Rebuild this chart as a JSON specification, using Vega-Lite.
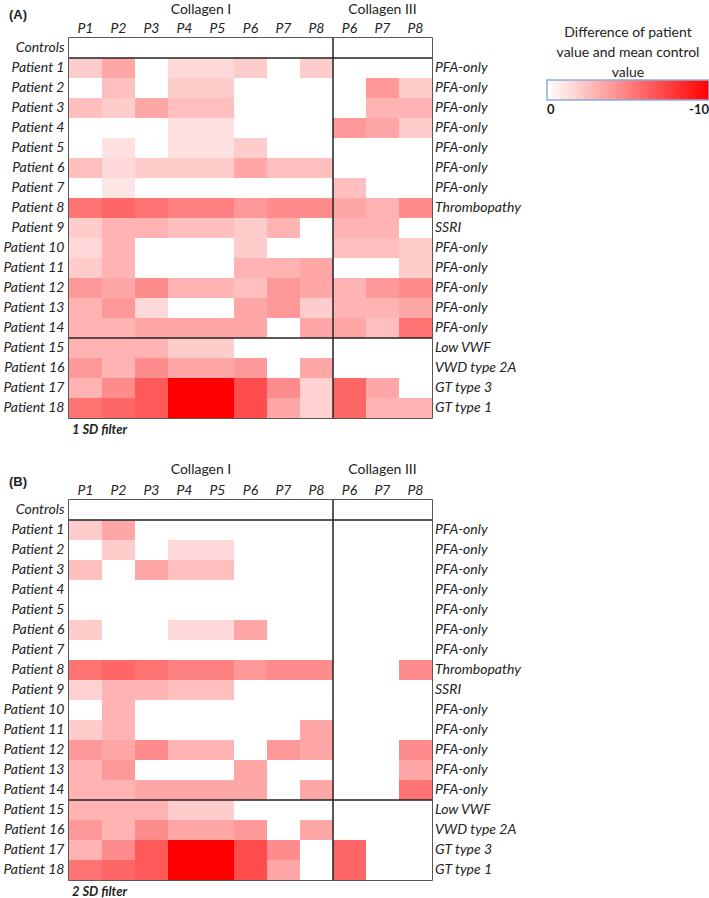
{
"$schema": "https://vega.github.io/schema/vega-lite/v6.json",
"padding": {"left": 2, "top": 2, "right": 0, "bottom": 6},
"spacing": 24,
"config": {
 "font": "Lato",
 "view": {"stroke": "#222", "strokeWidth": 1.5},
 "axis": {"labelFont": "Lato", "labelFontSize": 14, "labelColor": "#222", "labelFontStyle": "italic", "domain": false, "ticks": false, "grid": false, "title": null},
 "text": {"font": "Lato", "fontSize": 14, "color": "#222"},
 "rule": {"color": "#222", "strokeWidth": 1.5}
},
"datasets": {
 "diag": [
  {"p":"Patient 1","d":"PFA-only"},{"p":"Patient 2","d":"PFA-only"},{"p":"Patient 3","d":"PFA-only"},{"p":"Patient 4","d":"PFA-only"},{"p":"Patient 5","d":"PFA-only"},{"p":"Patient 6","d":"PFA-only"},{"p":"Patient 7","d":"PFA-only"},{"p":"Patient 8","d":"Thrombopathy"},{"p":"Patient 9","d":"SSRI"},{"p":"Patient 10","d":"PFA-only"},{"p":"Patient 11","d":"PFA-only"},{"p":"Patient 12","d":"PFA-only"},{"p":"Patient 13","d":"PFA-only"},{"p":"Patient 14","d":"PFA-only"},{"p":"Patient 15","d":"Low VWF"},{"p":"Patient 16","d":"VWD type 2A"},{"p":"Patient 17","d":"GT type 3"},{"p":"Patient 18","d":"GT type 1"}
 ],
 "A": [
  {"p":"Controls","c":"I1","v":0},{"p":"Controls","c":"I2","v":0},{"p":"Controls","c":"I3","v":0},{"p":"Controls","c":"I4","v":0},{"p":"Controls","c":"I5","v":0},{"p":"Controls","c":"I6","v":0},{"p":"Controls","c":"I7","v":0},{"p":"Controls","c":"I8","v":0},{"p":"Controls","c":"III6","v":0},{"p":"Controls","c":"III7","v":0},{"p":"Controls","c":"III8","v":0},
  {"p":"Patient 1","c":"I1","v":-2},{"p":"Patient 1","c":"I2","v":-3.5},{"p":"Patient 1","c":"I3","v":0},{"p":"Patient 1","c":"I4","v":-1.5},{"p":"Patient 1","c":"I5","v":-1.5},{"p":"Patient 1","c":"I6","v":-2},{"p":"Patient 1","c":"I7","v":0},{"p":"Patient 1","c":"I8","v":-2},{"p":"Patient 1","c":"III6","v":0},{"p":"Patient 1","c":"III7","v":0},{"p":"Patient 1","c":"III8","v":0},
  {"p":"Patient 2","c":"I1","v":0},{"p":"Patient 2","c":"I2","v":-2.5},{"p":"Patient 2","c":"I3","v":0},{"p":"Patient 2","c":"I4","v":-2},{"p":"Patient 2","c":"I5","v":-2},{"p":"Patient 2","c":"I6","v":0},{"p":"Patient 2","c":"I7","v":0},{"p":"Patient 2","c":"I8","v":0},{"p":"Patient 2","c":"III6","v":0},{"p":"Patient 2","c":"III7","v":-4},{"p":"Patient 2","c":"III8","v":-2},
  {"p":"Patient 3","c":"I1","v":-2.5},{"p":"Patient 3","c":"I2","v":-2},{"p":"Patient 3","c":"I3","v":-3.5},{"p":"Patient 3","c":"I4","v":-2.5},{"p":"Patient 3","c":"I5","v":-2.5},{"p":"Patient 3","c":"I6","v":0},{"p":"Patient 3","c":"I7","v":0},{"p":"Patient 3","c":"I8","v":0},{"p":"Patient 3","c":"III6","v":0},{"p":"Patient 3","c":"III7","v":-3},{"p":"Patient 3","c":"III8","v":-3},
  {"p":"Patient 4","c":"I1","v":0},{"p":"Patient 4","c":"I2","v":0},{"p":"Patient 4","c":"I3","v":0},{"p":"Patient 4","c":"I4","v":-1.2},{"p":"Patient 4","c":"I5","v":-1.2},{"p":"Patient 4","c":"I6","v":0},{"p":"Patient 4","c":"I7","v":0},{"p":"Patient 4","c":"I8","v":0},{"p":"Patient 4","c":"III6","v":-4},{"p":"Patient 4","c":"III7","v":-3.5},{"p":"Patient 4","c":"III8","v":-2},
  {"p":"Patient 5","c":"I1","v":0},{"p":"Patient 5","c":"I2","v":-1.2},{"p":"Patient 5","c":"I3","v":0},{"p":"Patient 5","c":"I4","v":-1.2},{"p":"Patient 5","c":"I5","v":-1.2},{"p":"Patient 5","c":"I6","v":-2},{"p":"Patient 5","c":"I7","v":0},{"p":"Patient 5","c":"I8","v":0},{"p":"Patient 5","c":"III6","v":0},{"p":"Patient 5","c":"III7","v":0},{"p":"Patient 5","c":"III8","v":0},
  {"p":"Patient 6","c":"I1","v":-2.5},{"p":"Patient 6","c":"I2","v":-1.5},{"p":"Patient 6","c":"I3","v":-2},{"p":"Patient 6","c":"I4","v":-2},{"p":"Patient 6","c":"I5","v":-2},{"p":"Patient 6","c":"I6","v":-3.5},{"p":"Patient 6","c":"I7","v":-2.5},{"p":"Patient 6","c":"I8","v":-2.5},{"p":"Patient 6","c":"III6","v":0},{"p":"Patient 6","c":"III7","v":0},{"p":"Patient 6","c":"III8","v":0},
  {"p":"Patient 7","c":"I1","v":0},{"p":"Patient 7","c":"I2","v":-1},{"p":"Patient 7","c":"I3","v":0},{"p":"Patient 7","c":"I4","v":0},{"p":"Patient 7","c":"I5","v":0},{"p":"Patient 7","c":"I6","v":0},{"p":"Patient 7","c":"I7","v":0},{"p":"Patient 7","c":"I8","v":0},{"p":"Patient 7","c":"III6","v":-2.5},{"p":"Patient 7","c":"III7","v":0},{"p":"Patient 7","c":"III8","v":0},
  {"p":"Patient 8","c":"I1","v":-5.5},{"p":"Patient 8","c":"I2","v":-6},{"p":"Patient 8","c":"I3","v":-5.5},{"p":"Patient 8","c":"I4","v":-5},{"p":"Patient 8","c":"I5","v":-5},{"p":"Patient 8","c":"I6","v":-4},{"p":"Patient 8","c":"I7","v":-4.5},{"p":"Patient 8","c":"I8","v":-4.5},{"p":"Patient 8","c":"III6","v":-3.5},{"p":"Patient 8","c":"III7","v":-3},{"p":"Patient 8","c":"III8","v":-4.5},
  {"p":"Patient 9","c":"I1","v":-2},{"p":"Patient 9","c":"I2","v":-3},{"p":"Patient 9","c":"I3","v":-3},{"p":"Patient 9","c":"I4","v":-2.5},{"p":"Patient 9","c":"I5","v":-2.5},{"p":"Patient 9","c":"I6","v":-2},{"p":"Patient 9","c":"I7","v":-3},{"p":"Patient 9","c":"I8","v":0},{"p":"Patient 9","c":"III6","v":-3},{"p":"Patient 9","c":"III7","v":-3},{"p":"Patient 9","c":"III8","v":0},
  {"p":"Patient 10","c":"I1","v":-1.5},{"p":"Patient 10","c":"I2","v":-3},{"p":"Patient 10","c":"I3","v":0},{"p":"Patient 10","c":"I4","v":0},{"p":"Patient 10","c":"I5","v":0},{"p":"Patient 10","c":"I6","v":-2},{"p":"Patient 10","c":"I7","v":0},{"p":"Patient 10","c":"I8","v":0},{"p":"Patient 10","c":"III6","v":-2.5},{"p":"Patient 10","c":"III7","v":-2.5},{"p":"Patient 10","c":"III8","v":-2},
  {"p":"Patient 11","c":"I1","v":-2},{"p":"Patient 11","c":"I2","v":-3},{"p":"Patient 11","c":"I3","v":0},{"p":"Patient 11","c":"I4","v":0},{"p":"Patient 11","c":"I5","v":0},{"p":"Patient 11","c":"I6","v":-3},{"p":"Patient 11","c":"I7","v":-3},{"p":"Patient 11","c":"I8","v":-3.5},{"p":"Patient 11","c":"III6","v":0},{"p":"Patient 11","c":"III7","v":0},{"p":"Patient 11","c":"III8","v":-2},
  {"p":"Patient 12","c":"I1","v":-4},{"p":"Patient 12","c":"I2","v":-3.5},{"p":"Patient 12","c":"I3","v":-4.5},{"p":"Patient 12","c":"I4","v":-3},{"p":"Patient 12","c":"I5","v":-3},{"p":"Patient 12","c":"I6","v":-2.5},{"p":"Patient 12","c":"I7","v":-4},{"p":"Patient 12","c":"I8","v":-3.5},{"p":"Patient 12","c":"III6","v":-3},{"p":"Patient 12","c":"III7","v":-4},{"p":"Patient 12","c":"III8","v":-4.5},
  {"p":"Patient 13","c":"I1","v":-3},{"p":"Patient 13","c":"I2","v":-4},{"p":"Patient 13","c":"I3","v":-1.5},{"p":"Patient 13","c":"I4","v":0},{"p":"Patient 13","c":"I5","v":0},{"p":"Patient 13","c":"I6","v":-3.5},{"p":"Patient 13","c":"I7","v":-4},{"p":"Patient 13","c":"I8","v":-2},{"p":"Patient 13","c":"III6","v":-3},{"p":"Patient 13","c":"III7","v":-3},{"p":"Patient 13","c":"III8","v":-3.5},
  {"p":"Patient 14","c":"I1","v":-3},{"p":"Patient 14","c":"I2","v":-3},{"p":"Patient 14","c":"I3","v":-3.5},{"p":"Patient 14","c":"I4","v":-3.5},{"p":"Patient 14","c":"I5","v":-3.5},{"p":"Patient 14","c":"I6","v":-3.5},{"p":"Patient 14","c":"I7","v":0},{"p":"Patient 14","c":"I8","v":-3.5},{"p":"Patient 14","c":"III6","v":-3.5},{"p":"Patient 14","c":"III7","v":-2.5},{"p":"Patient 14","c":"III8","v":-5.5},
  {"p":"Patient 15","c":"I1","v":-3},{"p":"Patient 15","c":"I2","v":-3},{"p":"Patient 15","c":"I3","v":-3},{"p":"Patient 15","c":"I4","v":-2},{"p":"Patient 15","c":"I5","v":-2},{"p":"Patient 15","c":"I6","v":0},{"p":"Patient 15","c":"I7","v":0},{"p":"Patient 15","c":"I8","v":0},{"p":"Patient 15","c":"III6","v":0},{"p":"Patient 15","c":"III7","v":0},{"p":"Patient 15","c":"III8","v":0},
  {"p":"Patient 16","c":"I1","v":-4},{"p":"Patient 16","c":"I2","v":-3},{"p":"Patient 16","c":"I3","v":-4.5},{"p":"Patient 16","c":"I4","v":-3.5},{"p":"Patient 16","c":"I5","v":-3.5},{"p":"Patient 16","c":"I6","v":-4},{"p":"Patient 16","c":"I7","v":0},{"p":"Patient 16","c":"I8","v":-3.5},{"p":"Patient 16","c":"III6","v":0},{"p":"Patient 16","c":"III7","v":0},{"p":"Patient 16","c":"III8","v":0},
  {"p":"Patient 17","c":"I1","v":-3},{"p":"Patient 17","c":"I2","v":-4.5},{"p":"Patient 17","c":"I3","v":-6.5},{"p":"Patient 17","c":"I4","v":-10},{"p":"Patient 17","c":"I5","v":-10},{"p":"Patient 17","c":"I6","v":-7},{"p":"Patient 17","c":"I7","v":-4.5},{"p":"Patient 17","c":"I8","v":-1.8},{"p":"Patient 17","c":"III6","v":-6},{"p":"Patient 17","c":"III7","v":-3.5},{"p":"Patient 17","c":"III8","v":0},
  {"p":"Patient 18","c":"I1","v":-5.5},{"p":"Patient 18","c":"I2","v":-6},{"p":"Patient 18","c":"I3","v":-6.5},{"p":"Patient 18","c":"I4","v":-10},{"p":"Patient 18","c":"I5","v":-10},{"p":"Patient 18","c":"I6","v":-7},{"p":"Patient 18","c":"I7","v":-3.5},{"p":"Patient 18","c":"I8","v":-1.8},{"p":"Patient 18","c":"III6","v":-6},{"p":"Patient 18","c":"III7","v":-3},{"p":"Patient 18","c":"III8","v":-3}
 ],
 "B": [
  {"p":"Controls","c":"I1","v":0},{"p":"Controls","c":"I2","v":0},{"p":"Controls","c":"I3","v":0},{"p":"Controls","c":"I4","v":0},{"p":"Controls","c":"I5","v":0},{"p":"Controls","c":"I6","v":0},{"p":"Controls","c":"I7","v":0},{"p":"Controls","c":"I8","v":0},{"p":"Controls","c":"III6","v":0},{"p":"Controls","c":"III7","v":0},{"p":"Controls","c":"III8","v":0},
  {"p":"Patient 1","c":"I1","v":-2},{"p":"Patient 1","c":"I2","v":-3.5},{"p":"Patient 1","c":"I3","v":0},{"p":"Patient 1","c":"I4","v":0},{"p":"Patient 1","c":"I5","v":0},{"p":"Patient 1","c":"I6","v":0},{"p":"Patient 1","c":"I7","v":0},{"p":"Patient 1","c":"I8","v":0},{"p":"Patient 1","c":"III6","v":0},{"p":"Patient 1","c":"III7","v":0},{"p":"Patient 1","c":"III8","v":0},
  {"p":"Patient 2","c":"I1","v":0},{"p":"Patient 2","c":"I2","v":-2},{"p":"Patient 2","c":"I3","v":0},{"p":"Patient 2","c":"I4","v":-1.5},{"p":"Patient 2","c":"I5","v":-1.5},{"p":"Patient 2","c":"I6","v":0},{"p":"Patient 2","c":"I7","v":0},{"p":"Patient 2","c":"I8","v":0},{"p":"Patient 2","c":"III6","v":0},{"p":"Patient 2","c":"III7","v":0},{"p":"Patient 2","c":"III8","v":0},
  {"p":"Patient 3","c":"I1","v":-2.5},{"p":"Patient 3","c":"I2","v":0},{"p":"Patient 3","c":"I3","v":-3.5},{"p":"Patient 3","c":"I4","v":-2.5},{"p":"Patient 3","c":"I5","v":-2.5},{"p":"Patient 3","c":"I6","v":0},{"p":"Patient 3","c":"I7","v":0},{"p":"Patient 3","c":"I8","v":0},{"p":"Patient 3","c":"III6","v":0},{"p":"Patient 3","c":"III7","v":0},{"p":"Patient 3","c":"III8","v":0},
  {"p":"Patient 4","c":"I1","v":0},{"p":"Patient 4","c":"I2","v":0},{"p":"Patient 4","c":"I3","v":0},{"p":"Patient 4","c":"I4","v":0},{"p":"Patient 4","c":"I5","v":0},{"p":"Patient 4","c":"I6","v":0},{"p":"Patient 4","c":"I7","v":0},{"p":"Patient 4","c":"I8","v":0},{"p":"Patient 4","c":"III6","v":0},{"p":"Patient 4","c":"III7","v":0},{"p":"Patient 4","c":"III8","v":0},
  {"p":"Patient 5","c":"I1","v":0},{"p":"Patient 5","c":"I2","v":0},{"p":"Patient 5","c":"I3","v":0},{"p":"Patient 5","c":"I4","v":0},{"p":"Patient 5","c":"I5","v":0},{"p":"Patient 5","c":"I6","v":0},{"p":"Patient 5","c":"I7","v":0},{"p":"Patient 5","c":"I8","v":0},{"p":"Patient 5","c":"III6","v":0},{"p":"Patient 5","c":"III7","v":0},{"p":"Patient 5","c":"III8","v":0},
  {"p":"Patient 6","c":"I1","v":-2},{"p":"Patient 6","c":"I2","v":0},{"p":"Patient 6","c":"I3","v":0},{"p":"Patient 6","c":"I4","v":-1.5},{"p":"Patient 6","c":"I5","v":-1.5},{"p":"Patient 6","c":"I6","v":-3.5},{"p":"Patient 6","c":"I7","v":0},{"p":"Patient 6","c":"I8","v":0},{"p":"Patient 6","c":"III6","v":0},{"p":"Patient 6","c":"III7","v":0},{"p":"Patient 6","c":"III8","v":0},
  {"p":"Patient 7","c":"I1","v":0},{"p":"Patient 7","c":"I2","v":0},{"p":"Patient 7","c":"I3","v":0},{"p":"Patient 7","c":"I4","v":0},{"p":"Patient 7","c":"I5","v":0},{"p":"Patient 7","c":"I6","v":0},{"p":"Patient 7","c":"I7","v":0},{"p":"Patient 7","c":"I8","v":0},{"p":"Patient 7","c":"III6","v":0},{"p":"Patient 7","c":"III7","v":0},{"p":"Patient 7","c":"III8","v":0},
  {"p":"Patient 8","c":"I1","v":-5.5},{"p":"Patient 8","c":"I2","v":-6},{"p":"Patient 8","c":"I3","v":-5.5},{"p":"Patient 8","c":"I4","v":-5},{"p":"Patient 8","c":"I5","v":-5},{"p":"Patient 8","c":"I6","v":-4},{"p":"Patient 8","c":"I7","v":-4.5},{"p":"Patient 8","c":"I8","v":-4.5},{"p":"Patient 8","c":"III6","v":0},{"p":"Patient 8","c":"III7","v":0},{"p":"Patient 8","c":"III8","v":-4.5},
  {"p":"Patient 9","c":"I1","v":-1.8},{"p":"Patient 9","c":"I2","v":-3},{"p":"Patient 9","c":"I3","v":-3},{"p":"Patient 9","c":"I4","v":-2.5},{"p":"Patient 9","c":"I5","v":-2.5},{"p":"Patient 9","c":"I6","v":0},{"p":"Patient 9","c":"I7","v":0},{"p":"Patient 9","c":"I8","v":0},{"p":"Patient 9","c":"III6","v":0},{"p":"Patient 9","c":"III7","v":0},{"p":"Patient 9","c":"III8","v":0},
  {"p":"Patient 10","c":"I1","v":0},{"p":"Patient 10","c":"I2","v":-3},{"p":"Patient 10","c":"I3","v":0},{"p":"Patient 10","c":"I4","v":0},{"p":"Patient 10","c":"I5","v":0},{"p":"Patient 10","c":"I6","v":0},{"p":"Patient 10","c":"I7","v":0},{"p":"Patient 10","c":"I8","v":0},{"p":"Patient 10","c":"III6","v":0},{"p":"Patient 10","c":"III7","v":0},{"p":"Patient 10","c":"III8","v":0},
  {"p":"Patient 11","c":"I1","v":-2},{"p":"Patient 11","c":"I2","v":-3},{"p":"Patient 11","c":"I3","v":0},{"p":"Patient 11","c":"I4","v":0},{"p":"Patient 11","c":"I5","v":0},{"p":"Patient 11","c":"I6","v":0},{"p":"Patient 11","c":"I7","v":0},{"p":"Patient 11","c":"I8","v":-3.5},{"p":"Patient 11","c":"III6","v":0},{"p":"Patient 11","c":"III7","v":0},{"p":"Patient 11","c":"III8","v":0},
  {"p":"Patient 12","c":"I1","v":-4},{"p":"Patient 12","c":"I2","v":-3.5},{"p":"Patient 12","c":"I3","v":-4.5},{"p":"Patient 12","c":"I4","v":-3},{"p":"Patient 12","c":"I5","v":-3},{"p":"Patient 12","c":"I6","v":0},{"p":"Patient 12","c":"I7","v":-4},{"p":"Patient 12","c":"I8","v":-3.5},{"p":"Patient 12","c":"III6","v":0},{"p":"Patient 12","c":"III7","v":0},{"p":"Patient 12","c":"III8","v":-4.5},
  {"p":"Patient 13","c":"I1","v":-3},{"p":"Patient 13","c":"I2","v":-4},{"p":"Patient 13","c":"I3","v":0},{"p":"Patient 13","c":"I4","v":0},{"p":"Patient 13","c":"I5","v":0},{"p":"Patient 13","c":"I6","v":-3.5},{"p":"Patient 13","c":"I7","v":0},{"p":"Patient 13","c":"I8","v":0},{"p":"Patient 13","c":"III6","v":0},{"p":"Patient 13","c":"III7","v":0},{"p":"Patient 13","c":"III8","v":-3.5},
  {"p":"Patient 14","c":"I1","v":-3},{"p":"Patient 14","c":"I2","v":-3},{"p":"Patient 14","c":"I3","v":-3.5},{"p":"Patient 14","c":"I4","v":-3.5},{"p":"Patient 14","c":"I5","v":-3.5},{"p":"Patient 14","c":"I6","v":-3.5},{"p":"Patient 14","c":"I7","v":0},{"p":"Patient 14","c":"I8","v":-3.5},{"p":"Patient 14","c":"III6","v":0},{"p":"Patient 14","c":"III7","v":0},{"p":"Patient 14","c":"III8","v":-5.5},
  {"p":"Patient 15","c":"I1","v":-3},{"p":"Patient 15","c":"I2","v":-3},{"p":"Patient 15","c":"I3","v":-3},{"p":"Patient 15","c":"I4","v":-2},{"p":"Patient 15","c":"I5","v":-2},{"p":"Patient 15","c":"I6","v":0},{"p":"Patient 15","c":"I7","v":0},{"p":"Patient 15","c":"I8","v":0},{"p":"Patient 15","c":"III6","v":0},{"p":"Patient 15","c":"III7","v":0},{"p":"Patient 15","c":"III8","v":0},
  {"p":"Patient 16","c":"I1","v":-4},{"p":"Patient 16","c":"I2","v":-3},{"p":"Patient 16","c":"I3","v":-4.5},{"p":"Patient 16","c":"I4","v":-3.5},{"p":"Patient 16","c":"I5","v":-3.5},{"p":"Patient 16","c":"I6","v":-4},{"p":"Patient 16","c":"I7","v":0},{"p":"Patient 16","c":"I8","v":-3.5},{"p":"Patient 16","c":"III6","v":0},{"p":"Patient 16","c":"III7","v":0},{"p":"Patient 16","c":"III8","v":0},
  {"p":"Patient 17","c":"I1","v":-3},{"p":"Patient 17","c":"I2","v":-4.5},{"p":"Patient 17","c":"I3","v":-6.5},{"p":"Patient 17","c":"I4","v":-10},{"p":"Patient 17","c":"I5","v":-10},{"p":"Patient 17","c":"I6","v":-7},{"p":"Patient 17","c":"I7","v":-4.5},{"p":"Patient 17","c":"I8","v":0},{"p":"Patient 17","c":"III6","v":-6},{"p":"Patient 17","c":"III7","v":0},{"p":"Patient 17","c":"III8","v":0},
  {"p":"Patient 18","c":"I1","v":-5.5},{"p":"Patient 18","c":"I2","v":-6},{"p":"Patient 18","c":"I3","v":-6.5},{"p":"Patient 18","c":"I4","v":-10},{"p":"Patient 18","c":"I5","v":-10},{"p":"Patient 18","c":"I6","v":-7},{"p":"Patient 18","c":"I7","v":-3.5},{"p":"Patient 18","c":"I8","v":0},{"p":"Patient 18","c":"III6","v":-6},{"p":"Patient 18","c":"III7","v":0},{"p":"Patient 18","c":"III8","v":0}
 ]
},
"vconcat": [
 {
  "width": 363, "height": 380,
  "layer": [
   {"data": {"name": "A"}, "mark": {"type": "rect"},
    "encoding": {
     "x": {"field": "c", "type": "nominal", "scale": {"domain": ["I1","I2","I3","I4","I5","I6","I7","I8","III6","III7","III8"], "paddingInner": 0, "paddingOuter": 0}, "axis": {"orient": "top", "labelAngle": 0, "labelPadding": 3, "labelExpr": "'P' + slice(datum.value, -1)"}},
     "y": {"field": "p", "type": "nominal", "scale": {"domain": ["Controls","Patient 1","Patient 2","Patient 3","Patient 4","Patient 5","Patient 6","Patient 7","Patient 8","Patient 9","Patient 10","Patient 11","Patient 12","Patient 13","Patient 14","Patient 15","Patient 16","Patient 17","Patient 18"], "paddingInner": 0, "paddingOuter": 0}, "axis": {"labelPadding": 5}},
     "color": {"field": "v", "type": "quantitative", "scale": {"domain": [0, -10], "range": ["#ffffff", "#ff0000"], "interpolate": "rgb", "zero": false, "nice": false, "clamp": true},
       "legend": {"orient": "none", "legendX": 478, "legendY": -12, "direction": "horizontal", "gradientLength": 162, "gradientThickness": 20, "gradientStrokeColor": "#8eaadb", "gradientStrokeWidth": 1.5, "values": [0, -10], "labelExpr": "'' + datum.value", "title": ["Difference of patient", "value and mean control", "value"], "titleFont": "Lato", "titleFontSize": 14, "titleFontWeight": "normal", "titleColor": "#222", "titleAlign": "center", "titleAnchor": "middle", "titleLineHeight": 20, "titlePadding": 0, "labelFont": "Lato", "labelFontSize": 13, "labelFontWeight": "bold", "labelColor": "#222", "labelOffset": 4}}
    }},
   {"data": {"values": [{}]}, "mark": {"type": "rule"}, "encoding": {"x": {"datum": "III6", "type": "nominal", "bandPosition": 0}}},
   {"data": {"values": [{}]}, "mark": {"type": "rule"}, "encoding": {"y": {"datum": "Patient 1", "type": "nominal", "bandPosition": 0}}},
   {"data": {"values": [{}]}, "mark": {"type": "rule"}, "encoding": {"y": {"datum": "Patient 15", "type": "nominal", "bandPosition": 0}}},
   {"data": {"values": [{"t": "Collagen I"}]}, "mark": {"type": "text", "fontSize": 14, "baseline": "middle", "dy": -28},
    "encoding": {"x": {"datum": "I4", "type": "nominal", "bandPosition": 1}, "y": {"datum": "Controls", "type": "nominal", "bandPosition": 0}, "text": {"field": "t"}}},
   {"data": {"values": [{"t": "Collagen III"}]}, "mark": {"type": "text", "fontSize": 14, "baseline": "middle", "dy": -28},
    "encoding": {"x": {"datum": "III7", "type": "nominal", "bandPosition": 0.5}, "y": {"datum": "Controls", "type": "nominal", "bandPosition": 0}, "text": {"field": "t"}}},
   {"data": {"values": [{"t": "(A)"}]}, "mark": {"type": "text", "align": "left", "baseline": "middle", "font": "Liberation Sans", "fontWeight": "bold", "fontSize": 13, "dx": -60, "dy": -23},
    "encoding": {"x": {"datum": "I1", "type": "nominal", "bandPosition": 0}, "y": {"datum": "Controls", "type": "nominal", "bandPosition": 0}, "text": {"field": "t"}}},
   {"data": {"values": [{"t": "1 SD filter"}]}, "mark": {"type": "text", "align": "left", "baseline": "middle", "fontWeight": "bold", "fontStyle": "italic", "fontSize": 13, "dx": 3, "dy": 12},
    "encoding": {"x": {"datum": "I1", "type": "nominal", "bandPosition": 0}, "y": {"datum": "Patient 18", "type": "nominal", "bandPosition": 1}, "text": {"field": "t"}}},
   {"data": {"name": "diag"}, "mark": {"type": "text", "align": "left", "baseline": "middle", "fontStyle": "italic", "dx": 3},
    "encoding": {"x": {"datum": "III8", "type": "nominal", "bandPosition": 1}, "y": {"field": "p", "type": "nominal"}, "text": {"field": "d"}}}
  ]
 },
 {
  "width": 363, "height": 380,
  "layer": [
   {"data": {"name": "B"}, "mark": {"type": "rect"},
    "encoding": {
     "x": {"field": "c", "type": "nominal", "scale": {"domain": ["I1","I2","I3","I4","I5","I6","I7","I8","III6","III7","III8"], "paddingInner": 0, "paddingOuter": 0}, "axis": {"orient": "top", "labelAngle": 0, "labelPadding": 3, "labelExpr": "'P' + slice(datum.value, -1)"}},
     "y": {"field": "p", "type": "nominal", "scale": {"domain": ["Controls","Patient 1","Patient 2","Patient 3","Patient 4","Patient 5","Patient 6","Patient 7","Patient 8","Patient 9","Patient 10","Patient 11","Patient 12","Patient 13","Patient 14","Patient 15","Patient 16","Patient 17","Patient 18"], "paddingInner": 0, "paddingOuter": 0}, "axis": {"labelPadding": 5}},
     "color": {"field": "v", "type": "quantitative", "scale": {"domain": [0, -10], "range": ["#ffffff", "#ff0000"], "interpolate": "rgb", "zero": false, "nice": false, "clamp": true},
       "legend": {"orient": "none", "legendX": 478, "legendY": -12, "direction": "horizontal", "gradientLength": 162, "gradientThickness": 20, "gradientStrokeColor": "#8eaadb", "gradientStrokeWidth": 1.5, "values": [0, -10], "labelExpr": "'' + datum.value", "title": ["Difference of patient", "value and mean control", "value"], "titleFont": "Lato", "titleFontSize": 14, "titleFontWeight": "normal", "titleColor": "#222", "titleAlign": "center", "titleAnchor": "middle", "titleLineHeight": 20, "titlePadding": 0, "labelFont": "Lato", "labelFontSize": 13, "labelFontWeight": "bold", "labelColor": "#222", "labelOffset": 4}}
    }},
   {"data": {"values": [{}]}, "mark": {"type": "rule"}, "encoding": {"x": {"datum": "III6", "type": "nominal", "bandPosition": 0}}},
   {"data": {"values": [{}]}, "mark": {"type": "rule"}, "encoding": {"y": {"datum": "Patient 1", "type": "nominal", "bandPosition": 0}}},
   {"data": {"values": [{}]}, "mark": {"type": "rule"}, "encoding": {"y": {"datum": "Patient 15", "type": "nominal", "bandPosition": 0}}},
   {"data": {"values": [{"t": "Collagen I"}]}, "mark": {"type": "text", "fontSize": 14, "baseline": "middle", "dy": -30},
    "encoding": {"x": {"datum": "I4", "type": "nominal", "bandPosition": 1}, "y": {"datum": "Controls", "type": "nominal", "bandPosition": 0}, "text": {"field": "t"}}},
   {"data": {"values": [{"t": "Collagen III"}]}, "mark": {"type": "text", "fontSize": 14, "baseline": "middle", "dy": -30},
    "encoding": {"x": {"datum": "III7", "type": "nominal", "bandPosition": 0.5}, "y": {"datum": "Controls", "type": "nominal", "bandPosition": 0}, "text": {"field": "t"}}},
   {"data": {"values": [{"t": "(B)"}]}, "mark": {"type": "text", "align": "left", "baseline": "middle", "font": "Liberation Sans", "fontWeight": "bold", "fontSize": 13, "dx": -60, "dy": -18},
    "encoding": {"x": {"datum": "I1", "type": "nominal", "bandPosition": 0}, "y": {"datum": "Controls", "type": "nominal", "bandPosition": 0}, "text": {"field": "t"}}},
   {"data": {"values": [{"t": "2 SD filter"}]}, "mark": {"type": "text", "align": "left", "baseline": "middle", "fontWeight": "bold", "fontStyle": "italic", "fontSize": 13, "dx": 3, "dy": 12},
    "encoding": {"x": {"datum": "I1", "type": "nominal", "bandPosition": 0}, "y": {"datum": "Patient 18", "type": "nominal", "bandPosition": 1}, "text": {"field": "t"}}},
   {"data": {"name": "diag"}, "mark": {"type": "text", "align": "left", "baseline": "middle", "fontStyle": "italic", "dx": 3},
    "encoding": {"x": {"datum": "III8", "type": "nominal", "bandPosition": 1}, "y": {"field": "p", "type": "nominal"}, "text": {"field": "d"}}}
  ]
 }
]
}
